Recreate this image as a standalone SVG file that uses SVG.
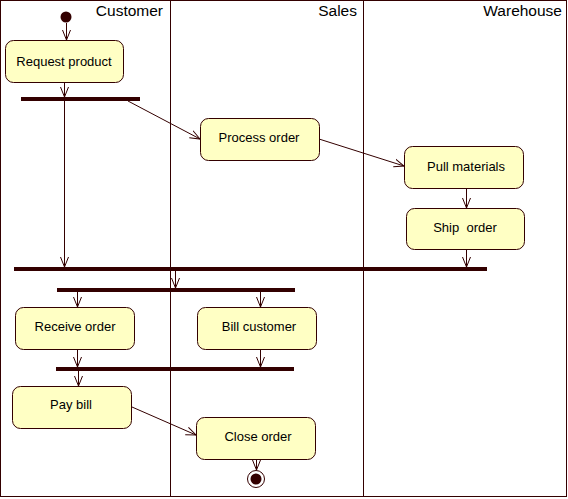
<svg xmlns="http://www.w3.org/2000/svg" width="568" height="499" viewBox="0 0 568 499">
<style>
.lane{fill:none;stroke:#330000;stroke-width:1}
.title{font-family:"Liberation Sans",Arial,sans-serif;font-size:15.5px;fill:#000;text-anchor:end}
.act rect{fill:#ffffc4;stroke:#330000;stroke-width:1}
.act text{font-family:"Liberation Sans",Arial,sans-serif;font-size:13px;fill:#000;text-anchor:middle}
.bar{fill:#330000}
.conn line{stroke:#330000;stroke-width:1;fill:none}
</style>
<defs>
<marker id="arr" viewBox="0 0 10 10" refX="10" refY="5" markerWidth="10" markerHeight="10" markerUnits="userSpaceOnUse" orient="auto">
<path d="M0,1 L10,5 L0,9" fill="none" stroke="#330000" stroke-width="1"/>
</marker>
</defs>
<rect fill="#ffffff" x="0" y="0" width="568" height="499"/>
<g id="lanes">
<rect class="lane" x="0.5" y="0.5" width="566" height="496"/>
<line class="lane" x1="170.5" y1="0" x2="170.5" y2="497"/>
<line class="lane" x1="363.5" y1="0" x2="363.5" y2="497"/>
<text class="title" x="163" y="16">Customer</text>
<text class="title" x="357" y="16">Sales</text>
<text class="title" x="562" y="16">Warehouse</text>
</g>
<g id="start"><circle cx="66" cy="17" r="5.5" fill="#330000"/></g>
<g id="request" class="act"><rect x="5.5" y="40.5" width="118" height="42" rx="8"/><text x="64" y="66">Request product</text></g>
<g id="fork1"><rect class="bar" x="21" y="97" width="119" height="4"/></g>
<g id="process" class="act"><rect x="200.5" y="118.5" width="119" height="42" rx="8"/><text x="259" y="142">Process order</text></g>
<g id="pull" class="act"><rect x="404.5" y="146.5" width="119" height="42" rx="8"/><text x="466" y="171">Pull materials</text></g>
<g id="ship" class="act"><rect x="406.5" y="208.5" width="118" height="41" rx="8"/><text x="465" y="232" xml:space="preserve">Ship  order</text></g>
<g id="join1"><rect class="bar" x="14" y="267" width="473" height="4"/></g>
<g id="fork2"><rect class="bar" x="57" y="288" width="238" height="4"/></g>
<g id="receive" class="act"><rect x="15.5" y="307.5" width="119" height="42" rx="8"/><text x="75" y="331">Receive order</text></g>
<g id="bill" class="act"><rect x="197.5" y="307.5" width="119" height="42" rx="8"/><text x="259" y="331">Bill customer</text></g>
<g id="join2"><rect class="bar" x="56" y="367" width="238" height="4"/></g>
<g id="pay" class="act"><rect x="12.5" y="386.5" width="119" height="42" rx="8"/><text x="71" y="409">Pay bill</text></g>
<g id="close" class="act"><rect x="196.5" y="417.5" width="119" height="42" rx="8"/><text x="258" y="441">Close order</text></g>
<g id="end"><circle cx="256" cy="479" r="8.5" fill="#fff" stroke="#330000" stroke-width="1"/><circle cx="256" cy="479" r="5.5" fill="#330000"/></g>
<g id="connectors" class="conn">
<line x1="66.5" y1="23" x2="66.5" y2="40" marker-end="url(#arr)"/>
<line x1="64.5" y1="83" x2="64.5" y2="97" marker-end="url(#arr)"/>
<line x1="64.5" y1="101" x2="64.5" y2="267" marker-end="url(#arr)"/>
<line x1="128" y1="101" x2="200" y2="139" marker-end="url(#arr)"/>
<line x1="319" y1="139" x2="404" y2="166" marker-end="url(#arr)"/>
<line x1="466.5" y1="189" x2="466.5" y2="208" marker-end="url(#arr)"/>
<line x1="466.5" y1="250" x2="466.5" y2="267" marker-end="url(#arr)"/>
<line x1="175.5" y1="271" x2="175.5" y2="288" marker-end="url(#arr)"/>
<line x1="77.5" y1="292" x2="77.5" y2="307" marker-end="url(#arr)"/>
<line x1="260.5" y1="292" x2="260.5" y2="307" marker-end="url(#arr)"/>
<line x1="77.5" y1="350" x2="77.5" y2="367" marker-end="url(#arr)"/>
<line x1="260.5" y1="350" x2="260.5" y2="367" marker-end="url(#arr)"/>
<line x1="78.5" y1="371" x2="78.5" y2="386" marker-end="url(#arr)"/>
<line x1="132" y1="407" x2="196" y2="435" marker-end="url(#arr)"/>
<line x1="256.5" y1="460" x2="256.5" y2="470" marker-end="url(#arr)"/>
</g>
</svg>
